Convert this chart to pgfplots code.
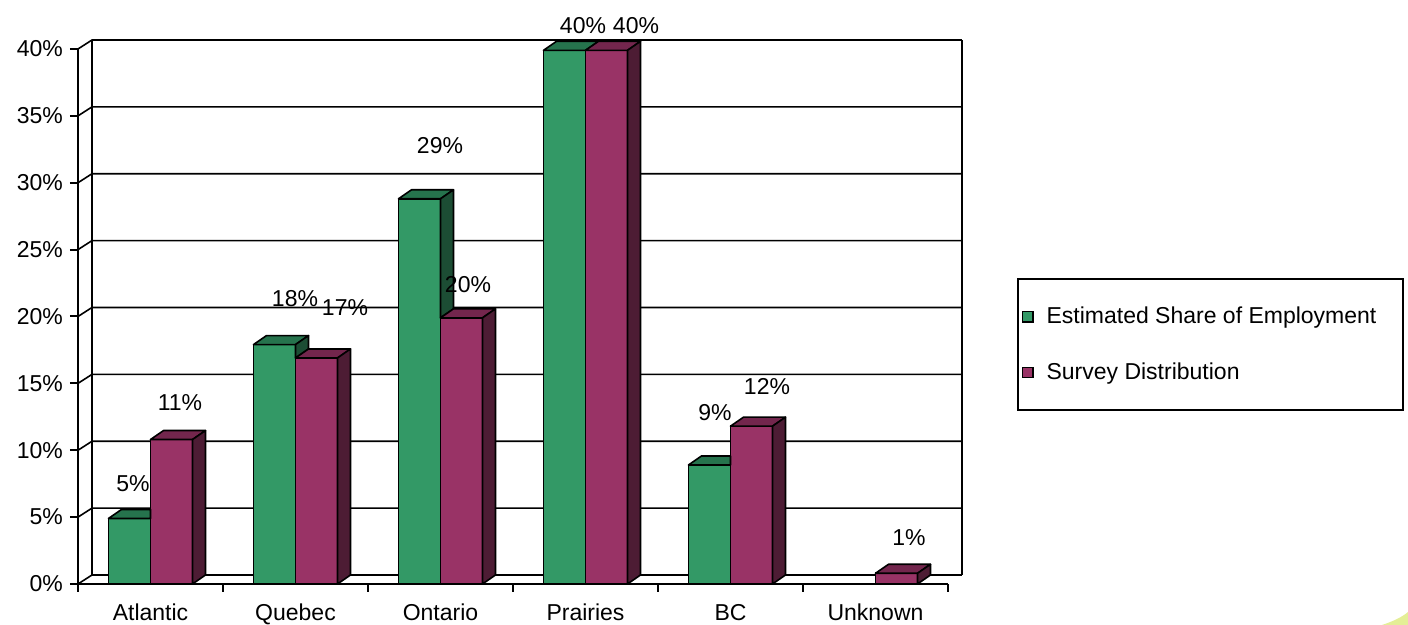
\documentclass[border=0pt]{standalone}
\usepackage{pgfplots}
\pgfplotsset{compat=1.18}
\usepackage{pgfplotstable}
\usepackage{fontspec}
\setmainfont{Liberation Sans}

\definecolor{gfront}{RGB}{51,153,102}
\definecolor{gtop}{RGB}{38,115,77}
\definecolor{gside}{RGB}{28,77,52}
\definecolor{pfront}{RGB}{153,51,102}
\definecolor{ptop}{RGB}{115,38,77}
\definecolor{pside}{RGB}{77,28,52}
\definecolor{swoosh}{RGB}{228,238,150}

% x = category, y = share in %, lbl = printed label, lx/ly = label offset (pt)
% sh = part of the green side face left visible above the survey bar (%),
% cut = how far the green top face shows past the bar's right edge (pt)
\pgfplotstableread{
x y    lbl lx    ly   sh  cut
0 4.9  5   1.75  17.5 0   0
1 17.9 18  10.25 23   1.0 6.5
2 28.8 29  10.25 26.5 8.9 6.5
3 39.9 40  9.25  12.5 0   6.5
4 8.9  9   2.75  26   0   0
}\estdata
\pgfplotstableread{
x y    lbl lx    ly
0 10.8 11  4.25  18.5
1 16.9 17  14.25 25
2 19.9 20  3.25  16.5
3 39.9 40  14.75 12.5
4 11.8 12  7.75  20
5 0.8  1   6.25  18
}\surveydata

% top and side faces, drawn as marks at the category centre
% bars 21pt wide, depth 6.5pt x 4.5pt, 6.6875pt per percent
\tikzset{face/.style={draw=black, line width=0.8pt, line join=round}}
\pgfdeclareplotmark{cubeG}{%
  \filldraw[face, fill=gtop] (-21pt,0pt) -- (0pt,0pt) -- ({\cut*1pt},{\cut*4.5/6.5*1pt})
    -- ({\cut*1pt},4.5pt) -- (-14.5pt,4.5pt) -- cycle;
  \ifdim\sideh pt>0.01pt
    \filldraw[face, fill=gside] (0pt,0pt) -- (6.5pt,4.5pt) -- (6.5pt,{4.5pt-\sideh*6.6875pt})
      -- (0pt,{-\sideh*6.6875pt}) -- cycle;
  \fi}
\pgfdeclareplotmark{cubeP}{%
  \filldraw[face, fill=ptop] (0pt,0pt) -- (21pt,0pt) -- (27.5pt,4.5pt) -- (6.5pt,4.5pt) -- cycle;
  \filldraw[face, fill=pside] (21pt,0pt) -- (27.5pt,4.5pt) -- (27.5pt,{4.5pt-\val*6.6875pt})
    -- (21pt,{-\val*6.6875pt}) -- cycle;}

\begin{document}
\begin{tikzpicture}[font=\fontsize{11.5}{13.8}\selectfont]
\useasboundingbox (-39pt,-20.5pt) rectangle (665pt,292pt);
\fill[swoosh] (652pt,-20.5pt) .. controls (658pt,-18.5pt) and (662pt,-16.5pt) .. (665pt,-14pt)
  -- (665pt,-20.5pt) -- cycle;
\begin{axis}[
  at={(0pt,0pt)}, anchor=south west,
  scale only axis, width=435pt, height=267.5pt,
  xmin=-0.5, xmax=5.5, ymin=0, ymax=40,
  axis lines*=left,
  axis line style={line width=1pt, -},
  clip=false,
  ybar=0pt, bar width=21pt,
  xtick={-0.5,0.5,...,5.5},
  xticklabels={Atlantic,Quebec,Ontario,Prairies,BC,Unknown},
  x tick label as interval,
  ytick={0,5,...,40},
  yticklabel={\pgfmathprintnumber{\tick}\%},
  /pgf/number format/assume math mode=true,
  tick align=outside, major tick length=4pt,
  tick style={line width=1pt, black},
  xticklabel style={yshift=-2.5pt},
  point meta=explicit symbolic,
  nodes near coords={\pgfplotspointmeta\%},
  visualization depends on={\thisrow{lx} \as \lx},
  visualization depends on={\thisrow{ly} \as \ly},
  every node near coord/.append style={anchor=center, xshift=\lx pt, yshift=\ly pt, black},
  legend style={at={(1.0793,0.572)}, anchor=north west, draw=black, line width=1pt,
    inner xsep=2pt, inner ysep=12pt, row sep=14pt, legend cell align=left,
    font=\fontsize{11.5}{13.8}\selectfont},
]
\pgfplotsinvokeforeach{0,5,...,40}{
  \draw[line width=0.8pt] (axis cs:-0.5,#1) -- ++(7pt,4.5pt) -- ([shift={(7pt,4.5pt)}]axis cs:5.5,#1);
}
\draw[line width=1pt] ([shift={(7pt,4.5pt)}]axis cs:-0.5,0) -- ([shift={(7pt,4.5pt)}]axis cs:-0.5,40);
\draw[line width=1pt] ([shift={(7pt,4.5pt)}]axis cs:5.5,0) -- ([shift={(7pt,4.5pt)}]axis cs:5.5,40);

\addplot[fill=gfront, draw=black, line width=0.8pt, mark=cubeG,
  visualization depends on={\thisrow{sh} \as \sideh},
  visualization depends on={\thisrow{cut} \as \cut},
  legend image code/.code={\draw[fill=gfront, draw=black, line width=0.6pt] (0pt,-2.6pt) rectangle (5.2pt,2.6pt); \path[draw=none, fill=none] (0pt,0pt) -- (10pt,0pt);}]
  table[x=x, y=y, meta=lbl] {\estdata};
\addplot[fill=pfront, draw=black, line width=0.8pt, mark=cubeP,
  visualization depends on={\thisrow{y} \as \val},
  legend image code/.code={\draw[fill=pfront, draw=black, line width=0.6pt] (0pt,-2.6pt) rectangle (5.2pt,2.6pt); \path[draw=none, fill=none] (0pt,0pt) -- (10pt,0pt);}]
  table[x=x, y=y, meta=lbl] {\surveydata};
\legend{Estimated Share of Employment\rule{9.5pt}{0pt}, Survey Distribution}
\end{axis}
\end{tikzpicture}
\end{document}
